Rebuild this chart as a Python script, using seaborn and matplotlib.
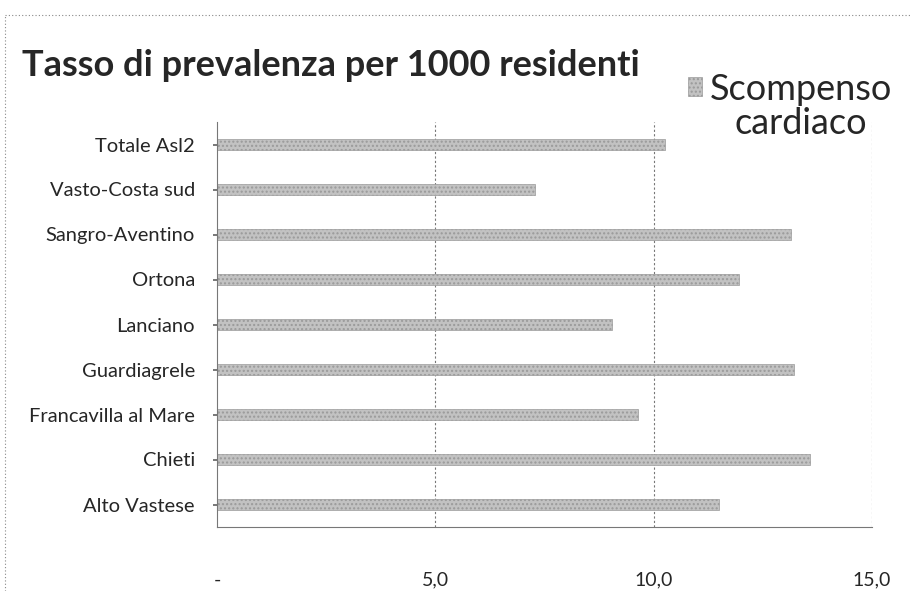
import matplotlib
matplotlib.use("Agg")
import matplotlib.pyplot as plt
import seaborn as sns
import pandas as pd
from matplotlib.lines import Line2D

categories = ["Totale Asl2", "Vasto-Costa sud", "Sangro-Aventino", "Ortona", "Lanciano",
              "Guardiagrele", "Francavilla al Mare", "Chieti", "Alto Vastese"]
values = [10.27, 7.28, 13.14, 11.95, 9.05, 13.22, 9.63, 13.58, 11.50]
series_line1 = "Scompenso"
series_line2 = "cardiaco"
title = "Tasso di prevalenza per 1000 residenti"
xticks = [0, 5, 10, 15]
xticklabels = ["-", "5,0", "10,0", "15,0"]

sns.set_theme(style="white")
plt.rcParams['font.family'] = ['Lato', 'DejaVu Sans']

df = pd.DataFrame({"cat": categories, "val": values, "serie": series_line1})

fig = plt.figure(figsize=(9.12, 5.91), dpi=100)
ax = fig.add_axes([217/912, 1-527/591, (872-217)/912, (527-122)/591])

sns.barplot(data=df, y="cat", x="val", hue="serie", orient="h", ax=ax,
            width=0.25, palette=["#c2c2c2"], edgecolor="#9a9a9a", linewidth=0.5,
            dodge=False)
for p in ax.patches:
    p.set_hatch("....")

ax.set_xlim(0, 15)
ax.set_xticks(xticks)
ax.set_xticklabels(xticklabels, fontsize=14)
ax.tick_params(axis="x", length=0, pad=32)
ax.tick_params(axis="y", length=3, direction="out", left=True, labelsize=14.5, pad=13, color="#666")
ax.set_xlabel("")
ax.set_ylabel("")
for x in [5, 10, 15]:
    ax.axvline(x, color="#777", lw=0.8, ls=(0, (2, 2)), zorder=0)
for s in ["top", "right"]:
    ax.spines[s].set_visible(False)
ax.spines["left"].set_color("#777")
ax.spines["left"].set_linewidth(0.8)
ax.spines["bottom"].set_color("#777")
ax.spines["bottom"].set_linewidth(0.8)
ax.spines["bottom"].set_linestyle((0, (3, 1)))

fig.text(22/912, 1-66/591, title, fontsize=26, fontweight="bold", va="center", ha="left")

leg = ax.legend(loc="center left", bbox_to_anchor=(688/912, 1-89/591),
                bbox_transform=fig.transFigure, frameon=False, fontsize=26,
                handlelength=0.4, handleheight=0.4, handletextpad=0.2, borderpad=0,
                borderaxespad=0)

fig.canvas.draw()
bb = leg.get_texts()[0].get_window_extent()
cx = (bb.x0 + bb.x1) / 2 / fig.bbox.width
fig.text(cx, 1-124/591, series_line2, fontsize=26, ha="center", va="center")

fig.add_artist(Line2D([5/912, 911/912], [1-15/591, 1-15/591], transform=fig.transFigure,
                      ls=(0, (1, 2)), lw=0.8, color="#888"))
fig.add_artist(Line2D([5/912, 5/912], [0, 1-15/591], transform=fig.transFigure,
                      ls=(0, (1, 2)), lw=0.8, color="#888"))

fig.savefig("out.png", dpi=100)
